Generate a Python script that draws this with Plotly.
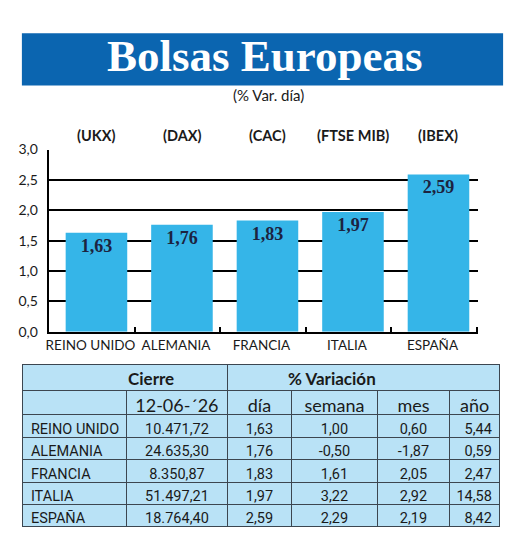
import plotly.graph_objects as go

# ---------------- data ----------------
countries = ["REINO UNIDO", "ALEMANIA", "FRANCIA", "ITALIA", "ESPAÑA"]
indices = ["(UKX)", "(DAX)", "(CAC)", "(FTSE MIB)", "(IBEX)"]
var_dia = [1.63, 1.76, 1.83, 1.97, 2.59]
y_ticks = [0.0, 0.5, 1.0, 1.5, 2.0, 2.5, 3.0]
y_tick_text = ["0,0", "0,5", "1,0", "1,5", "2,0", "2,5", "3,0"]

cierre = ["10.471,72", "24.635,30", "8.350,87", "51.497,21", "18.764,40"]
dia = ["1,63", "1,76", "1,83", "1,97", "2,59"]
semana = ["1,00", "-0,50", "1,61", "3,22", "2,29"]
mes = ["0,60", "-1,87", "2,05", "2,92", "2,19"]
anio = ["5,44", "0,59", "2,47", "14,58", "8,42"]
table_headers = ["", "12-06-´26", "día", "semana", "mes", "año"]
group_headers = ["Cierre", "% Variación"]

W, H = 520, 551
def px(x):
    return x / W
def py(y):
    return 1 - y / H

BLUE_BANNER = "#0b65b0"
BAR = "#35b5e8"
TFILL = "#b9e2f6"
NARROW = "Roboto, sans-serif"
SANS = "Lato, Open Sans, sans-serif"

xs = list(range(len(countries)))
fig = go.Figure()

fig.add_trace(go.Bar(
    x=xs, y=var_dia,
    marker=dict(color=BAR, line=dict(width=0)),
    width=0.72,
    text=[f"{v:.2f}".replace(".", ",") for v in var_dia],
    textposition="inside", insidetextanchor="end", textangle=0,
    constraintext="none",
    textfont=dict(family="Liberation Serif, Times New Roman, serif", size=18,
                  color="#1c2340", weight="bold"),
    hoverinfo="skip", showlegend=False,
))
# invisible trace to activate secondary x axis (ticks between categories)
fig.add_trace(go.Scatter(x=[xs[0]], y=[0], xaxis="x2", mode="markers",
                         marker=dict(opacity=0), hoverinfo="skip", showlegend=False))

xr = [-0.558, 4.465]
fig.update_layout(
    width=W, height=H,
    margin=dict(l=0, r=0, t=0, b=0),
    paper_bgcolor="white", plot_bgcolor="white",
    xaxis=dict(domain=[px(46), px(478)], range=xr,
               tickvals=[i - 0.07 for i in xs], ticktext=countries,
               ticks="", showgrid=False, zeroline=False,
               showline=True, linecolor="black", linewidth=2,
               tickfont=dict(family=SANS, size=13.5, color="#1a1a1a"),
               anchor="y", fixedrange=True),
    xaxis2=dict(domain=[px(46), px(478)], range=xr, overlaying="x", anchor="y",
                side="bottom", tickvals=[i + 0.45 for i in xs],
                ticks="inside", ticklen=5, tickwidth=2, tickcolor="black",
                showticklabels=False, showgrid=False, zeroline=False, showline=False),
    yaxis=dict(domain=[py(333), py(145)], range=[0, 3.0],
               tickvals=y_ticks, ticktext=y_tick_text,
               showgrid=True, gridcolor="black", gridwidth=2,
               zeroline=False, showline=True, linecolor="black", linewidth=2,
               ticks="", ticklabelstandoff=6,
               tickfont=dict(family=SANS, size=14, color="#1a1a1a"),
               fixedrange=True),
    bargap=0.28,
)

# banner
fig.add_shape(type="rect", xref="paper", yref="paper",
              x0=px(19), x1=px(503), y0=py(79), y1=py(25),
              fillcolor=BLUE_BANNER, line=dict(width=0), layer="below")
fig.add_annotation(x=px(264), y=py(49), xref="paper", yref="paper",
                   text="<b>Bolsas Europeas</b>", showarrow=False,
                   xanchor="center", yanchor="middle",
                   font=dict(family="Liberation Serif, Times New Roman, serif",
                             size=45, color="white"))
fig.add_annotation(x=px(267), y=py(89), xref="paper", yref="paper",
                   text="(% Var. día)", showarrow=False,
                   xanchor="center", yanchor="middle",
                   font=dict(family=SANS, size=15, color="#1a1a1a"))

# index labels above bars
for i, lab in zip(xs, indices):
    fig.add_annotation(x=i, y=py(131), xref="x", yref="paper", text=lab,
                       showarrow=False, xanchor="center", yanchor="middle",
                       font=dict(family=SANS, size=14.5, color="#1a1a1a", weight="bold"))

# ---------------- table ----------------
line_col = "#3c4650"
fig.add_trace(go.Table(
    domain=dict(x=[px(20), px(500)], y=[py(394), py(367)]),
    columnwidth=[206, 274],
    header=dict(values=["", ""], height=27, fill_color=TFILL,
                line=dict(color=line_col, width=1)),
    cells=dict(values=[[], []], height=1, fill_color=TFILL,
               line=dict(color=line_col, width=1)),
))
for txt, xc in zip(group_headers, [149, 331]):
    fig.add_annotation(x=px(xc), y=py(381), xref="paper", yref="paper",
                       text=f"<b>{txt}</b>", showarrow=False,
                       xanchor="center", yanchor="middle",
                       font=dict(family=SANS, size=17, color="#1a1a1a"))

row_names = [c.replace(" ", "\u00a0") for c in countries]
fig.add_trace(go.Table(
    domain=dict(x=[px(20), px(500)], y=[py(549), py(394)]),
    columnwidth=[104, 102, 64, 87, 72, 51],
    header=dict(values=table_headers, height=24, fill_color=TFILL,
                align="center",
                line=dict(color=line_col, width=1),
                font=dict(family=SANS, size=18, color="#1a1a1a")),
    cells=dict(values=[row_names, cierre, dia, semana, mes, anio],
               height=22.4, fill_color=TFILL,
               align=["left", "center", "center", "center", "center", "right"],
               line=dict(color=line_col, width=1),
               font=dict(family=NARROW, size=14.5, color="#1a1a1a")),
))

fig.write_html("out.html")
